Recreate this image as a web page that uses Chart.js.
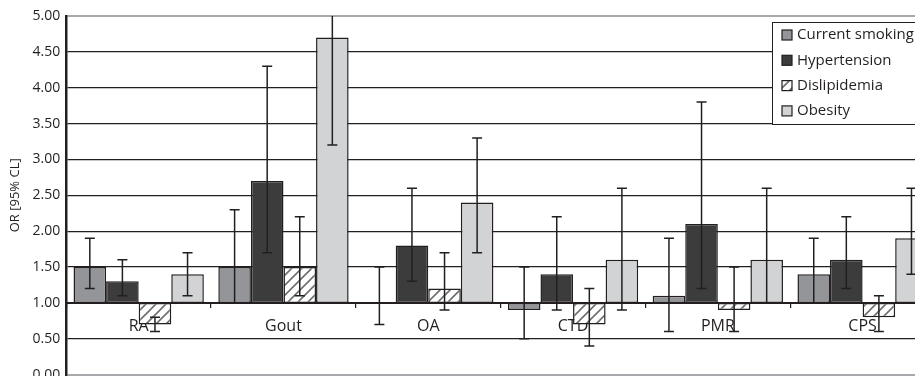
<!DOCTYPE html>
<html><head><meta charset="utf-8">
<script src="https://cdn.jsdelivr.net/npm/chart.js@4.4.0/dist/chart.umd.min.js"></script>
<style>
html,body{margin:0;padding:0;background:#fff;overflow:hidden;width:915px;height:376px;}
#wrap{position:relative;width:935px;height:389px;}
</style></head><body>
<div id="wrap"><canvas id="c" width="935" height="389"></canvas></div>
<script>
const categories = ['RA','Gout','OA','CTD','PMR','CPS'];
const seriesNames = ['Current smoking','Hypertension','Dislipidemia','Obesity'];
const smokingOR   = [1.5, 1.5, 1.0, 0.9, 1.1, 1.4];
const smokingLow  = [1.2, 1.0, 0.7, 0.5, 0.6, 1.0];
const smokingHigh = [1.9, 2.3, 1.5, 1.5, 1.9, 1.9];
const hyperOR     = [1.3, 2.7, 1.8, 1.4, 2.1, 1.6];
const hyperLow    = [1.1, 1.7, 1.3, 0.9, 1.2, 1.2];
const hyperHigh   = [1.6, 4.3, 2.6, 2.2, 3.8, 2.2];
const dyslOR      = [0.7, 1.5, 1.2, 0.7, 0.9, 0.8];
const dyslLow     = [0.6, 1.1, 0.9, 0.4, 0.6, 0.6];
const dyslHigh    = [0.8, 2.2, 1.7, 1.2, 1.5, 1.1];
const obesOR      = [1.4, 4.7, 2.4, 1.6, 1.6, 1.9];
const obesLow     = [1.1, 3.2, 1.7, 0.9, 1.0, 1.4];
const obesHigh    = [1.7, 5.6, 3.3, 2.6, 2.6, 2.6];
const baseline = 1.0;
const yTicksMin = 0, yTicksMax = 5, yStep = 0.5;

function hatch(){
  const s=10, p=document.createElement('canvas'); p.width=s; p.height=s;
  const g=p.getContext('2d');
  g.fillStyle='#fff'; g.fillRect(0,0,s,s);
  g.strokeStyle='#6d6e71'; g.lineWidth=1.6;
  g.beginPath();
  g.moveTo(0,s); g.lineTo(s,0);
  g.moveTo(-3,3); g.lineTo(3,-3);
  g.moveTo(s-3,s+3); g.lineTo(s+3,s-3);
  g.stroke();
  return document.getElementById('c').getContext('2d').createPattern(p,'repeat');
}
const hatchFill = hatch();

const ors = [smokingOR, hyperOR, dyslOR, obesOR];
const lows = [smokingLow, hyperLow, dyslLow, obesLow];
const highs = [smokingHigh, hyperHigh, dyslHigh, obesHigh];
const fills = ['#939598', '#3c3c3c', hatchFill, '#d1d3d4'];

const datasets = seriesNames.map((n,i)=>({
  label:n,
  data: ors[i].map(v=>[baseline, v]),
  backgroundColor: fills[i],
  borderColor:'#231f20',
  borderWidth:1.5,
  borderSkipped:false,
  categoryPercentage:0.9,
  barPercentage:1.0,
  errLow: lows[i], errHigh: highs[i]
}));

const errorBars = {
  id:'errorBars',
  afterDatasetsDraw(chart){
    const ctx=chart.ctx, a=chart.chartArea, ys=chart.scales.y;
    ctx.save();
    ctx.beginPath(); ctx.rect(a.left, a.top, a.right-a.left, a.bottom-a.top); ctx.clip();
    ctx.strokeStyle='#231f20'; ctx.lineWidth=1.5;
    chart.data.datasets.forEach((ds,i)=>{
      const meta=chart.getDatasetMeta(i);
      meta.data.forEach((el,j)=>{
        const x=el.x, y1=ys.getPixelForValue(ds.errLow[j]), y2=ys.getPixelForValue(ds.errHigh[j]);
        ctx.beginPath();
        ctx.moveTo(x,y1); ctx.lineTo(x,y2);
        ctx.moveTo(x-5,y1); ctx.lineTo(x+5,y1);
        ctx.moveTo(x-5,y2); ctx.lineTo(x+5,y2);
        ctx.stroke();
      });
    });
    ctx.restore();
  }
};

const boxLegend = {
  id:'boxLegend',
  afterDraw(chart){
    const ctx=chart.ctx;
    const x0=772, y0=22, w=170, h=102;
    ctx.save();
    ctx.fillStyle='#fff'; ctx.fillRect(x0,y0,w,h);
    ctx.strokeStyle='#231f20'; ctx.lineWidth=1; ctx.strokeRect(x0+0.5,y0+0.5,w,h);
    ctx.font='15px "Open Sans", sans-serif';
    ctx.textBaseline='middle'; ctx.textAlign='left';
    chart.data.datasets.forEach((ds,i)=>{
      const cy=y0+13+i*25.3;
      ctx.fillStyle=ds.backgroundColor; ctx.fillRect(x0+10,cy-5,10,10);
      ctx.strokeStyle='#231f20'; ctx.lineWidth=1.2; ctx.strokeRect(x0+10,cy-5,10,10);
      ctx.fillStyle='#231f20'; ctx.fillText(ds.label, x0+25, cy);
    });
    ctx.restore();
  }
};

new Chart(document.getElementById('c'), {
  type:'bar',
  data:{labels:categories, datasets},
  options:{
    responsive:false, animation:false,
    layout:{padding:{top:16,right:0,left:7,bottom:0}},
    plugins:{legend:{display:false}, tooltip:{enabled:false}},
    scales:{
      x:{
        position:{y:baseline},
        offset:true,
        afterFit:s=>{s.height=0;},
        grid:{offset:true, drawOnChartArea:false, drawTicks:true, tickLength:4, color:'#231f20', lineWidth:1.2},
        border:{display:true, color:'#231f20', width:2},
        ticks:{color:'#231f20', font:{family:'"Open Sans", sans-serif', size:16}, padding:10}
      },
      y:{
        min:yTicksMin, max:yTicksMax,
        ticks:{stepSize:yStep, color:'#231f20', padding:6, font:{family:'"Open Sans", sans-serif', size:14}, callback:v=>v.toFixed(2)},
        grid:{drawTicks:false, color:c=>(c.tick.value===yTicksMax||c.tick.value===yTicksMin)?'#a7a9ac':'#231f20', lineWidth:c=>(c.tick.value===yTicksMax||c.tick.value===yTicksMin)?2:1.2},
        border:{display:true, color:'#231f20', width:2.5},
        title:{display:true, text:'OR [95% CL]', color:'#231f20', font:{family:'"Open Sans", sans-serif', size:13}, padding:{top:0,bottom:4}}
      }
    }
  },
  plugins:[errorBars, boxLegend]
});
</script>
</body></html>
